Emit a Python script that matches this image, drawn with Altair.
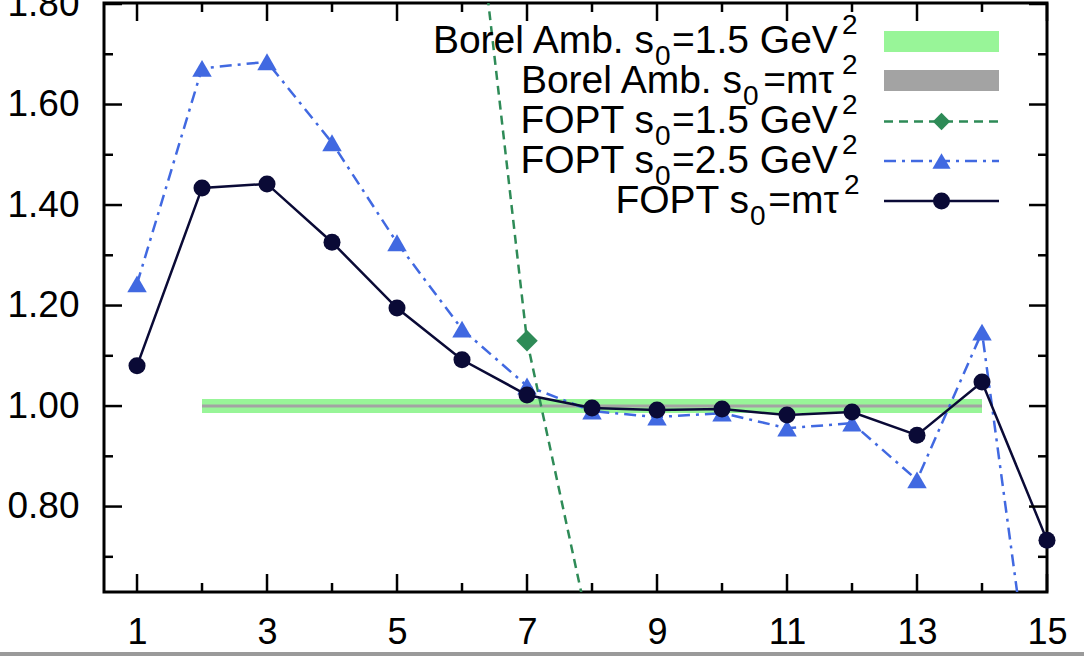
import altair as alt
import pandas as pd

# ---------------- data ----------------
x_vals = [1, 2, 3, 4, 5, 6, 7, 8, 9, 10, 11, 12, 13, 14, 15]
fopt_mtau = [1.080, 1.434, 1.442, 1.326, 1.195, 1.092, 1.022, 0.996, 0.992,
             0.994, 0.982, 0.988, 0.942, 1.048, 0.733]
fopt_25 = [1.243, 1.672, 1.685, 1.524, 1.325, 1.153, 1.040, 0.990, 0.978,
           0.986, 0.956, 0.966, 0.853, 1.147, 0.19]
fopt_15_x = [6, 7, 8]
fopt_15 = [2.26, 1.13, 0.53]

band_x = [2, 14]
green_lo = [0.986, 0.986]
green_hi = [1.014, 1.014]
gray_lo = [0.997, 0.997]
gray_hi = [1.003, 1.003]

x_major = [1, 3, 5, 7, 9, 11, 13, 15]
x_minor = [2, 4, 6, 8, 10, 12, 14]
y_major = [0.8, 1.0, 1.2, 1.4, 1.6, 1.8]
y_minor = [0.7, 0.9, 1.1, 1.3, 1.5, 1.7]

# ---------------- style ----------------
W, H = 943, 589
FONT = "Liberation Sans"
NAVY = "#0a0a36"
BLUE = "#4169e1"
GREEN = "#2e8b57"
LGREEN = "#98f598"
GRAY = "#a3a3a3"
DASH_G = [9, 6]
DASH_B = [12, 6, 3, 6]

xs = alt.Scale(domain=[0.492, 15], nice=False, zero=False)
ys = alt.Scale(domain=[0.630, 1.802], nice=False, zero=False)

one = pd.DataFrame({"d": [0]})

def X(field="x"):
    return alt.X(f"{field}:Q", scale=xs, title=None,
                 axis=alt.Axis(values=x_major, format="d", ticks=False, domain=False,
                               grid=False, labelFontSize=36, labelFont=FONT,
                               labelColor="black", labelPadding=23,
                               labelFlush=False, labelOverlap=False))

def Y(field="y"):
    return alt.Y(f"{field}:Q", scale=ys, title=None,
                 axis=alt.Axis(values=y_major, format=".2f", ticks=False, domain=False,
                               grid=False, labelFontSize=37, labelFont=FONT,
                               labelColor="black", labelPadding=25,
                               labelFlush=False, labelOverlap=False))

layers = []

# bands
bdf = pd.DataFrame({"x": band_x, "glo": green_lo, "ghi": green_hi,
                    "clo": gray_lo, "chi": gray_hi})
layers.append(alt.Chart(bdf).mark_area(color=LGREEN, opacity=1).encode(
    x=X(), y=Y("glo"), y2="ghi:Q"))
layers.append(alt.Chart(bdf).mark_area(color=GRAY, opacity=1).encode(
    x=X(), y=Y("clo"), y2="chi:Q"))

# FOPT s0=1.5
gdf = pd.DataFrame({"x": fopt_15_x, "y": fopt_15})
layers.append(alt.Chart(gdf).mark_line(color=GREEN, strokeWidth=2.5,
                                       strokeDash=DASH_G, clip=True).encode(x=X(), y=Y()))
layers.append(alt.Chart(gdf).mark_point(shape="diamond", filled=True, size=460,
                                        color=GREEN, opacity=1, clip=True).encode(x=X(), y=Y()))

# FOPT s0=2.5
bldf = pd.DataFrame({"x": x_vals, "y": fopt_25})
layers.append(alt.Chart(bldf).mark_line(color=BLUE, strokeWidth=2.5,
                                        strokeDash=DASH_B, clip=True).encode(x=X(), y=Y()))
layers.append(alt.Chart(bldf).mark_point(shape="triangle-up", filled=True, size=380,
                                         color=BLUE, opacity=1, clip=True).encode(x=X(), y=Y()))

# FOPT s0=mtau
ndf = pd.DataFrame({"x": x_vals, "y": fopt_mtau})
layers.append(alt.Chart(ndf).mark_line(color=NAVY, strokeWidth=2.5, clip=True).encode(x=X(), y=Y()))
layers.append(alt.Chart(ndf).mark_point(shape="circle", filled=True, size=290,
                                        color=NAVY, opacity=1).encode(x=X(), y=Y()))

# inward ticks on all four sides
def tick_layers(vals, length, axis):
    df = pd.DataFrame({"v": vals})
    out = []
    if axis == "x":
        for y0, y1 in [(H, H - length), (0, length)]:
            out.append(alt.Chart(df).mark_rule(color="black", strokeWidth=2.5).encode(
                x=X("v"), y=alt.value(y0), y2=alt.value(y1)))
    else:
        for x0, x1 in [(0, length), (W, W - length)]:
            out.append(alt.Chart(df).mark_rule(color="black", strokeWidth=2.5).encode(
                y=Y("v"), x=alt.value(x0), x2=alt.value(x1)))
    return out

layers += tick_layers(x_major, 18, "x")
layers += tick_layers(x_minor, 9, "x")
layers += tick_layers(y_major, 18, "y")
layers += tick_layers(y_minor, 9, "y")

# ---------------- legend (manual, with sub/superscripts) ----------------
LX0, LX1 = 780, 895
LXC = (LX0 + LX1) / 2
OX, OY = 104, 3  # plot origin in the page

layers.append(alt.Chart(one).mark_rect(color=LGREEN).encode(
    x=alt.value(LX0), x2=alt.value(LX1), y=alt.value(28), y2=alt.value(49)))
layers.append(alt.Chart(one).mark_rect(color=GRAY).encode(
    x=alt.value(LX0), x2=alt.value(LX1), y=alt.value(67), y2=alt.value(88)))
leg_lines = [(118.5, GREEN, DASH_G, "diamond", 2.5, 300),
             (158.0, BLUE, DASH_B, "triangle-up", 2.5, 330),
             (198.0, NAVY, None, "circle", 2.5, 290)]
for yy, col, dash, shp, sw, sz in leg_lines:
    kw = dict(color=col, strokeWidth=sw)
    if dash:
        kw["strokeDash"] = dash
    layers.append(alt.Chart(one).mark_rule(**kw).encode(
        x=alt.value(LX0), x2=alt.value(LX1), y=alt.value(yy)))
    layers.append(alt.Chart(one).mark_point(shape=shp, filled=True, size=sz, color=col,
                                            opacity=1).encode(
        x=alt.value(LXC), y=alt.value(yy)))

MAIN, SCR = 39, 28
SUB_DY, SUP_DY = 12, -19
# (text, anchor x in page pixels, align, role) ; role m=main, b=subscript, p=superscript
legend_rows = [
    (53, [("Borel Amb. s", 654, "right", "m"), ("0", 655, "left", "b"),
          ("=1.5 GeV", 672, "left", "m"), ("2", 842, "left", "p")]),
    (93, [("Borel Amb. s", 742, "right", "m"), ("0", 743, "left", "b"),
          ("=m\u03c4", 834, "right", "m"), ("2", 842, "left", "p")]),
    (133, [("FOPT s", 654, "right", "m"), ("0", 655, "left", "b"),
           ("=1.5 GeV", 672, "left", "m"), ("2", 842, "left", "p")]),
    (172.5, [("FOPT s", 654, "right", "m"), ("0", 655, "left", "b"),
             ("=2.5 GeV", 672, "left", "m"), ("2", 842, "left", "p")]),
    (212.5, [("FOPT s", 749, "right", "m"), ("0", 750, "left", "b"),
             ("=m\u03c4", 839, "right", "m"), ("2", 844, "left", "p")]),
]
for base, segs in legend_rows:
    for txt, px, al, kind in segs:
        if kind == "m":
            fs, dy = MAIN, 0
        elif kind == "b":
            fs, dy = SCR, SUB_DY
        else:
            fs, dy = SCR, SUP_DY
        layers.append(alt.Chart(one).mark_text(
            text=txt, align=al, baseline="alphabetic", font=FONT,
            fontSize=fs, color="black").encode(
            x=alt.value(px - OX), y=alt.value(base + dy - OY)))

# gray strip at the bottom edge of the picture
layers.append(alt.Chart(one).mark_rule(color="#9a9a9a", strokeWidth=4).encode(
    x=alt.value(-OX), x2=alt.value(1084 - OX), y=alt.value(654 - OY)))

chart = alt.layer(*layers).properties(
    width=W, height=H,
    autosize=alt.AutoSizeParams(type="none"),
    padding={"left": 104, "top": 3, "right": 1084 - 104 - W, "bottom": 656 - 3 - H},
    background="white",
).configure_view(stroke="black", strokeWidth=3)

chart.save("out.html", embed_options={"renderer": "svg", "actions": False})
